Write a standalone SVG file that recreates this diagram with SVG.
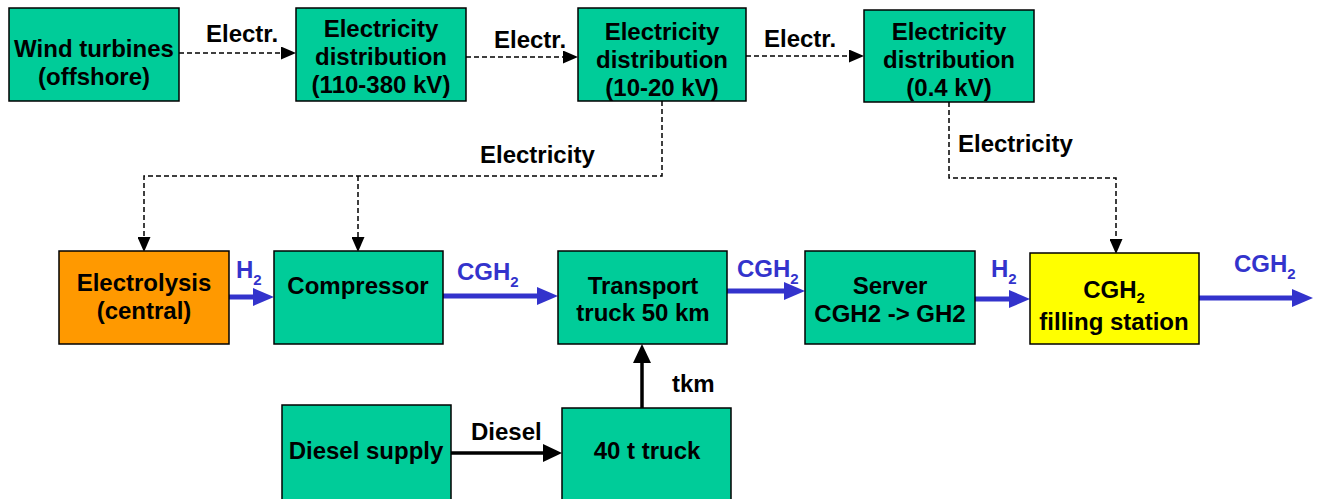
<svg xmlns="http://www.w3.org/2000/svg" width="1319" height="499" viewBox="0 0 1319 499">
<style>
.box{stroke:#000;stroke-width:1.5}
.g{fill:#00CC99}
.o{fill:#FF9900}
.y{fill:#FFFF00}
text{font-family:"Liberation Sans",Arial,sans-serif;font-weight:bold;font-size:24px;fill:#000}
.c{text-anchor:middle}
.bl{fill:#3333CC}
.sub{font-size:15px}
.dash{fill:none;stroke:#000;stroke-width:1.5;stroke-dasharray:5 3}
.blue{fill:none;stroke:#3333CC;stroke-width:5}
.blk{fill:none;stroke:#000;stroke-width:3.5}
</style>
<defs>
<marker id="ad" markerUnits="userSpaceOnUse" markerWidth="15" markerHeight="13" refX="0" refY="6.5" orient="auto"><path d="M0,0 L15,6.5 L0,13 z" fill="#000"/></marker>
<marker id="ab" markerUnits="userSpaceOnUse" markerWidth="21" markerHeight="18" refX="0" refY="9" orient="auto"><path d="M0,0 L21,9 L0,18 z" fill="#3333CC"/></marker>
<marker id="ak" markerUnits="userSpaceOnUse" markerWidth="19" markerHeight="18" refX="0" refY="9" orient="auto"><path d="M0,0 L19,9 L0,18 z" fill="#000"/></marker>
</defs>

<g id="connectors">
<path class="dash" d="M179,53 H281" marker-end="url(#ad)"/>
<path class="dash" d="M466,57 H563" marker-end="url(#ad)"/>
<path class="dash" d="M746,56 H849" marker-end="url(#ad)"/>
<path class="dash" d="M662,101 V176 H144 V237" marker-end="url(#ad)"/>
<path class="dash" d="M358,176 V237" marker-end="url(#ad)"/>
<path class="dash" d="M949,102 V178 H1116 V239" marker-end="url(#ad)"/>
<path class="blue" d="M229,297 H253" marker-end="url(#ab)"/>
<path class="blue" d="M443,296 H537" marker-end="url(#ab)"/>
<path class="blue" d="M727,291 H784" marker-end="url(#ab)"/>
<path class="blue" d="M975,299 H1009" marker-end="url(#ab)"/>
<path class="blue" d="M1199,298 H1292" marker-end="url(#ab)"/>
<path class="blk" d="M642,408 V363" marker-end="url(#ak)"/>
<path class="blk" d="M451,453 H543" marker-end="url(#ak)"/>
<text x="206" y="42">Electr.</text>
<text x="494" y="48">Electr.</text>
<text x="764" y="47">Electr.</text>
<text x="480" y="163">Electricity</text>
<text x="958" y="152">Electricity</text>
<text class="bl" x="236" y="278">H<tspan class="sub" dy="7">2</tspan></text>
<text class="bl" x="457" y="280">CGH<tspan class="sub" dy="7">2</tspan></text>
<text class="bl" x="737" y="277">CGH<tspan class="sub" dy="7">2</tspan></text>
<text class="bl" x="991" y="277">H<tspan class="sub" dy="7">2</tspan></text>
<text class="bl" x="1234" y="272">CGH<tspan class="sub" dy="7">2</tspan></text>
<text x="672" y="392">tkm</text>
<text x="471" y="440">Diesel</text>
</g>

<g id="wind">
<rect class="box g" x="9" y="8" width="170" height="93"/>
<text class="c" x="94" y="57">Wind turbines</text>
<text class="c" x="94" y="85">(offshore)</text>
</g>
<g id="dist110">
<rect class="box g" x="296" y="8" width="170" height="93"/>
<text class="c" x="381" y="37">Electricity</text>
<text class="c" x="381" y="65">distribution</text>
<text class="c" x="381" y="93">(110-380 kV)</text>
</g>
<g id="dist10">
<rect class="box g" x="578" y="8" width="168" height="93"/>
<text class="c" x="662" y="40">Electricity</text>
<text class="c" x="662" y="68">distribution</text>
<text class="c" x="662" y="96">(10-20 kV)</text>
</g>
<g id="dist04">
<rect class="box g" x="864" y="10" width="170" height="92"/>
<text class="c" x="949" y="40">Electricity</text>
<text class="c" x="949" y="68">distribution</text>
<text class="c" x="949" y="96">(0.4 kV)</text>
</g>
<g id="electrolysis">
<rect class="box o" x="59" y="251" width="170" height="93"/>
<text class="c" x="144" y="291">Electrolysis</text>
<text class="c" x="144" y="319">(central)</text>
</g>
<g id="compressor">
<rect class="box g" x="274" y="251" width="169" height="93"/>
<text class="c" x="358" y="294">Compressor</text>
</g>
<g id="transport">
<rect class="box g" x="558" y="251" width="169" height="93"/>
<text class="c" x="643" y="294">Transport</text>
<text class="c" x="643" y="321">truck 50 km</text>
</g>
<g id="server">
<rect class="box g" x="805" y="251" width="170" height="93"/>
<text class="c" x="890" y="294">Server</text>
<text class="c" x="890" y="322">CGH2 -&gt; GH2</text>
</g>
<g id="filling">
<rect class="box y" x="1030" y="253" width="169" height="91"/>
<text class="c" x="1114" y="298">CGH<tspan class="sub" dy="5">2</tspan></text>
<text class="c" x="1114" y="330">filling station</text>
</g>
<g id="diesel">
<rect class="box g" x="282" y="405" width="169" height="100"/>
<text class="c" x="366" y="459">Diesel supply</text>
</g>
<g id="truck40">
<rect class="box g" x="562" y="408" width="169" height="97"/>
<text class="c" x="647" y="459">40 t truck</text>
</g>
</svg>
